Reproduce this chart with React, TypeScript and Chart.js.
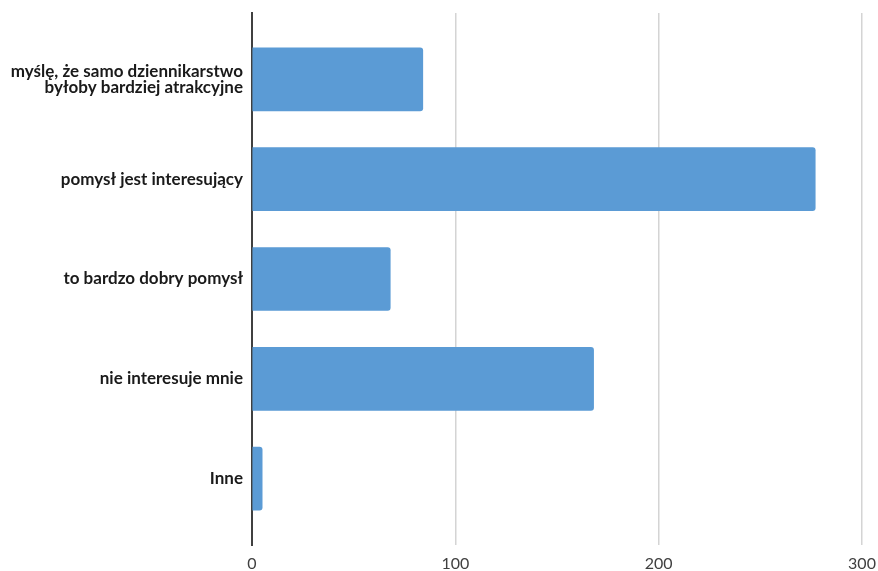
import React, { useEffect, useRef } from "react";
import { Chart, registerables } from "chart.js";

Chart.register(...registerables);

const categories: (string | string[])[] = [
  ["myślę, że samo dziennikarstwo", "byłoby bardziej atrakcyjne"],
  "pomysł jest interesujący",
  "to bardzo dobry pomysł",
  "nie interesuje mnie",
  "Inne",
];
const values = [84, 277, 68, 168, 5];
const xTicks = [0, 100, 200, 300];

export default function App() {
  const ref = useRef<HTMLCanvasElement | null>(null);

  useEffect(() => {
    if (!ref.current) return;
    const chart = new Chart(ref.current, {
      type: "bar",
      data: {
        datasets: [
          {
            data: values.map((v, i) => ({ x: v, y: i })),
            backgroundColor: "#5b9bd5",
            borderRadius: 3,
            borderSkipped: "start",
            barThickness: 63,
          },
        ],
      },
      options: {
        indexAxis: "y",
        animation: false,
        responsive: true,
        maintainAspectRatio: false,
        layout: { padding: { top: 13, right: 16, left: 0, bottom: 0 } },
        plugins: { legend: { display: false }, tooltip: { enabled: false } },
        scales: {
          x: {
            type: "linear",
            min: 0,
            max: 300,
            afterBuildTicks: (s: any) => {
              s.ticks = xTicks.map((v) => ({ value: v }));
            },
            afterFit: (s: any) => {
              s.height = 26;
              s.paddingRight = 0;
              s.paddingLeft = 0;
            },
            grid: {
              drawTicks: false,
              color: (ctx: any) => (ctx.tick && ctx.tick.value === 0 ? "rgba(0,0,0,0)" : "#d4d4d4"),
              lineWidth: 1.5,
            },
            border: { display: false },
            ticks: {
              padding: 9,
              color: "#404040",
              font: { family: "Lato", size: 16 },
            },
          },
          y: {
            type: "linear",
            reverse: true,
            offset: false,
            min: -0.665,
            max: 4.665,
            afterBuildTicks: (s: any) => {
              s.ticks = categories.map((_, i) => ({ value: i }));
            },
            afterFit: (s: any) => {
              s.width = 252;
              s.paddingTop = 0;
              s.paddingBottom = 0;
            },
            grid: { display: false, drawTicks: false },
            border: { display: true, color: "#404040", width: 2 },
            ticks: {
              padding: 9,
              color: "#1a1a1a",
              font: { family: "Lato", size: 17, weight: "bold", lineHeight: 0.9 },
              callback: (v: any) => categories[v as number],
            },
          },
        },
      },
    } as any);
    return () => chart.destroy();
  }, []);

  return (
    <div style={{ position: "absolute", left: 0, top: 0, width: 878, height: 571, background: "#fff" }}>
      <canvas ref={ref} />
    </div>
  );
}
